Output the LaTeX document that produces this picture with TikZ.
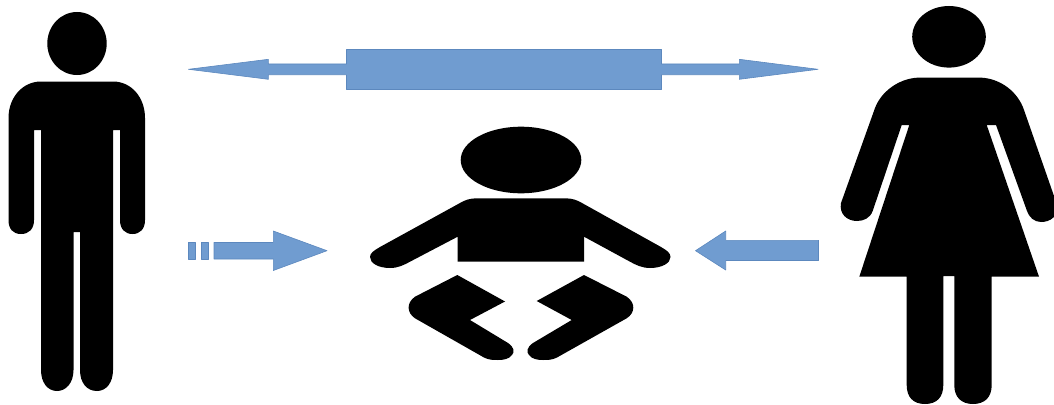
\documentclass[tikz,border=0pt]{standalone}
\definecolor{arrowfill}{HTML}{709CD0}
\definecolor{arrowedge}{HTML}{5C88BE}
\tikzset{
  figure/.style={fill=black,draw=none},
  bluearrow/.style={fill=arrowfill,draw=arrowedge,line width=0.6pt,line join=round}
}
\begin{document}
\begin{tikzpicture}[x=1pt,y=-1pt]
\useasboundingbox (0,0) rectangle (1054,404);
\clip (0,0) rectangle (1054,404);
% man
\fill[figure] (77,43.5) ellipse [x radius=29.7,y radius=31.5];
\fill[figure] (41,81.5) -- (113,81.5)
  .. controls (131,81.5) and (145,97) .. (145,118)
  -- (145,220) .. controls (145,229) and (140,234) .. (132.5,234)
  .. controls (125,234) and (120,229) .. (120,220)
  -- (120,130) -- (113,130) -- (113,370)
  .. controls (113,383) and (106,391) .. (97,391)
  .. controls (87,391) and (80,383) .. (80,370)
  -- (80,232) -- (73.5,232) -- (73.5,370)
  .. controls (73.5,383) and (66,391) .. (57,391)
  .. controls (48,391) and (41,383) .. (41,370)
  -- (41,130) -- (34,130) -- (34,220)
  .. controls (34,229) and (29,234) .. (21,234)
  .. controls (13,234) and (8.5,229) .. (8.5,220)
  -- (8.5,118) .. controls (8.5,97) and (23,81.5) .. (41,81.5) -- cycle;
% baby
\fill[figure] (521,160) ellipse [x radius=60.3,y radius=33.3];
\fill[figure] (477,198.3) -- (565,198.3)
  .. controls (572,198.3) and (577,200) .. (582,203)
  -- (661,247) .. controls (667,250.5) and (670.5,253) .. (670.5,257)
  .. controls (670.5,263) and (662,268) .. (650,268)
  .. controls (642,268) and (636,265) .. (630,261.7)
  -- (584,236.7) -- (584,261.7) -- (457.7,261.7) -- (457.7,236.7)
  -- (410,261.7) .. controls (404,265) and (398,268) .. (390,268)
  .. controls (378,268) and (370,263) .. (370,257)
  .. controls (370,253) and (374,250.5) .. (380,247)
  -- (460,203) .. controls (465,200) and (470,198.3) .. (477,198.3) -- cycle;
\fill[figure] (457.3,275) -- (505,301.5) -- (470,320) -- (508,343)
  .. controls (514,347) and (515,352) .. (512,355)
  .. controls (509,359) and (504,360) .. (498,360)
  .. controls (493,360) and (489,360) .. (484,357.5)
  -- (415,318.3) .. controls (407,313) and (406,303) .. (415,296.7) -- cycle;
\fill[figure] (584,275) -- (536.7,301) -- (571.7,320) -- (533,343)
  .. controls (527,347) and (526,352) .. (529,355)
  .. controls (532,359) and (537,360) .. (543,360)
  .. controls (548,360) and (552,360) .. (557,357.5)
  -- (626.7,318.3) .. controls (635,313) and (636,303) .. (626.7,296.7) -- cycle;
% woman
\fill[figure] (949,36.8) ellipse [x radius=36.8,y radius=30.8];
\fill[figure] (917,77.7) -- (982,77.7)
  .. controls (1001,79) and (1018,92) .. (1024,110)
  -- (1054,196) -- (1054,217)
  .. controls (1050,221) and (1045,222) .. (1041,222)
  .. controls (1034,222) and (1029,217) .. (1027,211)
  -- (996,125) -- (986.7,125) -- (1039,276.7)
  -- (991.7,276.7) -- (991.7,385)
  .. controls (991.7,397) and (985,404) .. (973,404)
  .. controls (961,404) and (954.3,397) .. (954.3,385)
  -- (954.3,276) -- (943.3,276) -- (943.3,385)
  .. controls (943.3,397) and (937,404) .. (925,404)
  .. controls (913,404) and (906.7,397) .. (906.7,385)
  -- (906.7,276.7) -- (859.3,276.7) -- (909.3,125) -- (901.7,125)
  -- (872.7,211) .. controls (870,218) and (864,221) .. (857,221)
  .. controls (847,221) and (839,214) .. (841,203)
  -- (875,108) .. controls (881,92) and (898,79) .. (917,77.7) -- cycle;
% arrows
\draw[bluearrow] (188.5,69.3) -- (268.3,59.3) -- (268.3,64) -- (346.5,64) -- (346.5,49.5)
  -- (661.5,49.5) -- (661.5,64) -- (739.3,64) -- (739.3,59.3) -- (818,69.3)
  -- (739.3,79.3) -- (739.3,74.7) -- (661.5,74.7) -- (661.5,89.5) -- (346.5,89.5)
  -- (346.5,74.7) -- (268.3,74.7) -- (268.3,79.3) -- cycle;
\draw[bluearrow] (188.5,242.5) rectangle (195.5,259);
\draw[bluearrow] (201.5,242.5) rectangle (208.5,259);
\draw[bluearrow] (214,242.5) -- (273.3,242.5) -- (273.3,231) -- (327,250.7)
  -- (273.3,270.5) -- (273.3,259) -- (214,259) -- cycle;
\draw[bluearrow] (818.5,240.3) -- (725.7,240.3) -- (725.7,231) -- (695.5,250.7)
  -- (725.7,270) -- (725.7,260.5) -- (818.5,260.5) -- cycle;
\end{tikzpicture}
\end{document}
